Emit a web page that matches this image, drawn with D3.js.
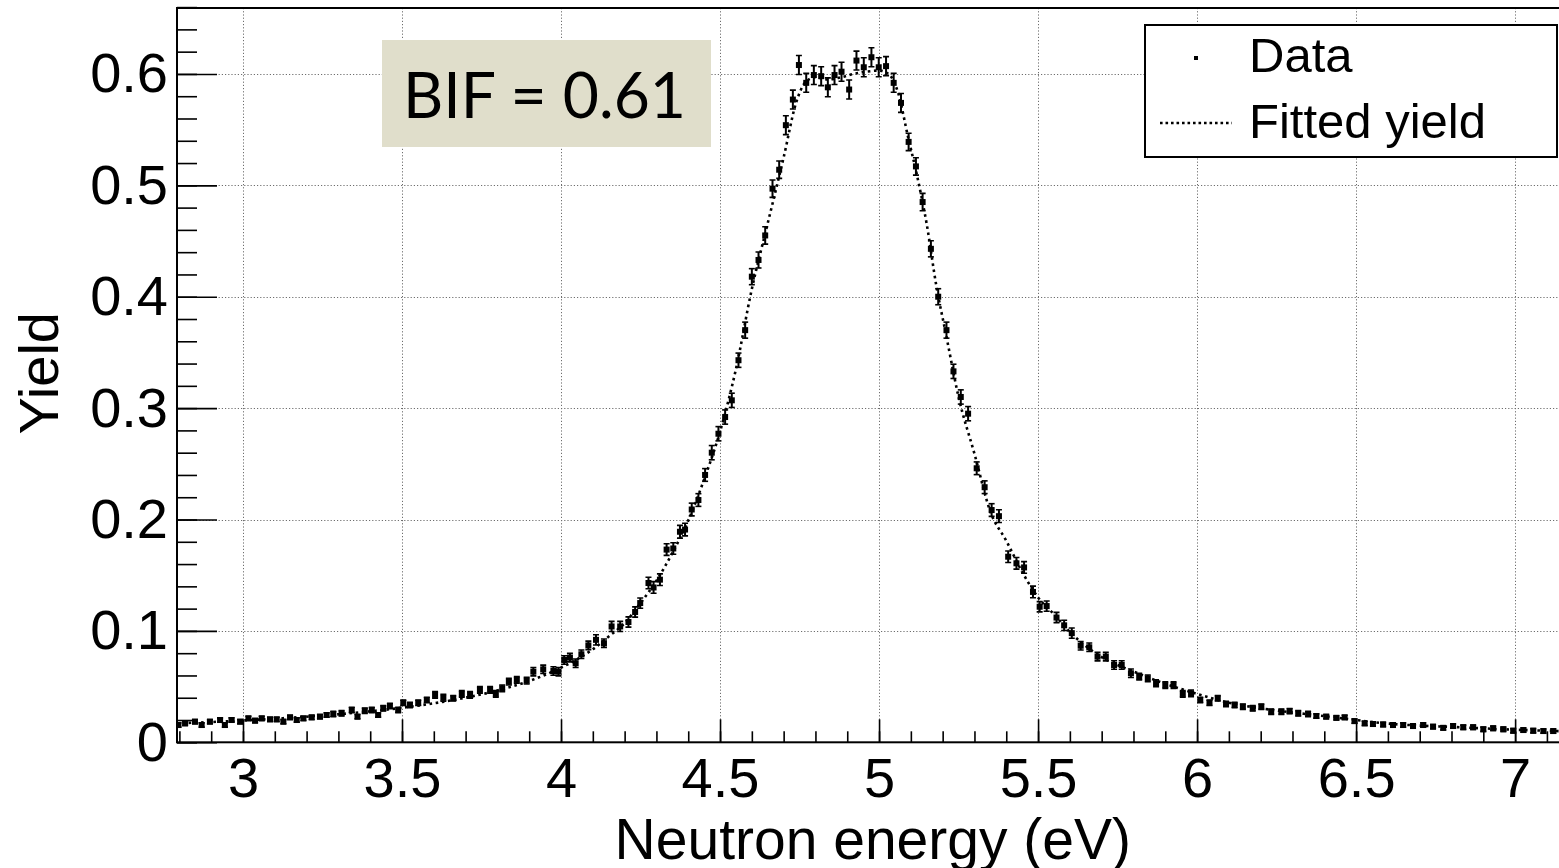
<!DOCTYPE html>
<html>
<head>
<meta charset="utf-8">
<script src="https://cdn.jsdelivr.net/npm/d3@7"></script>
<style>
  body { margin: 0; background: #fff; }
  svg { display: block; font-family: "Liberation Sans", Arial, sans-serif; }
</style>
</head>
<body>
<div id="chart"></div>
<script>
// measured points (energy in eV, yield, stat. error)
var energy = [
  2.797, 2.818, 2.849, 2.870, 2.896, 2.928, 2.943, 2.964, 2.991, 3.017,
  3.038, 3.059, 3.085, 3.106, 3.127, 3.148, 3.169, 3.190, 3.216, 3.242,
  3.263, 3.284, 3.310, 3.342, 3.360, 3.383, 3.405, 3.425, 3.441, 3.462,
  3.488, 3.504, 3.525, 3.551, 3.578, 3.604, 3.630, 3.661, 3.688, 3.714,
  3.745, 3.777, 3.795, 3.815, 3.836, 3.861, 3.892, 3.913, 3.944, 3.976,
  3.992, 4.010,
  4.028, 4.046, 4.064, 4.086, 4.110, 4.135, 4.159, 4.186, 4.212, 4.233,
  4.249, 4.275, 4.291, 4.311, 4.332, 4.353, 4.374, 4.390, 4.411, 4.432,
  4.453, 4.474, 4.495,
  4.516, 4.537, 4.558, 4.579, 4.600, 4.621, 4.642, 4.665, 4.686, 4.707,
  4.729, 4.748, 4.771, 4.795, 4.818, 4.839, 4.860, 4.882, 4.906, 4.929,
  4.952, 4.976, 4.999, 5.022, 5.046, 5.069, 5.093, 5.116, 5.137, 5.163,
  5.186, 5.212, 5.234, 5.257,
  5.280, 5.307, 5.332, 5.354, 5.377, 5.406, 5.432, 5.456, 5.484, 5.505,
  5.527, 5.558, 5.582, 5.606, 5.634, 5.661, 5.687, 5.713, 5.739, 5.763,
  5.792, 5.818, 5.845, 5.871, 5.900, 5.926, 5.955, 5.981, 6.010, 6.039,
  6.065, 6.091, 6.118, 6.144, 6.175, 6.202, 6.233, 6.265, 6.291, 6.318,
  6.349, 6.375, 6.406, 6.438, 6.464, 6.495, 6.527, 6.553, 6.585, 6.616,
  6.648, 6.679, 6.711, 6.742, 6.774, 6.805, 6.837, 6.868, 6.900, 6.931,
  6.963, 6.994, 7.026, 7.057, 7.089, 7.120
];
var yieldData = [
  0.0155, 0.017, 0.0185, 0.0155, 0.0185, 0.020, 0.0155, 0.020, 0.0185, 0.0215,
  0.0194, 0.0215, 0.0206, 0.0206, 0.0185, 0.0224, 0.020, 0.0215, 0.0224, 0.023,
  0.0245, 0.0254, 0.026, 0.029, 0.023, 0.0284, 0.029, 0.0245, 0.0305, 0.0326,
  0.029, 0.0355, 0.0335, 0.0355, 0.038, 0.0425, 0.040, 0.0395, 0.0434, 0.0425,
  0.047, 0.047, 0.0434, 0.0485, 0.0544, 0.056, 0.0553, 0.0634, 0.0655, 0.064,
  0.0634, 0.0739,
  0.076, 0.071, 0.079, 0.087, 0.092, 0.089, 0.104, 0.104, 0.108, 0.117,
  0.125, 0.143, 0.139, 0.146, 0.173, 0.174, 0.189, 0.191, 0.209, 0.2175,
  0.240, 0.260, 0.277,
  0.292, 0.307, 0.343, 0.370, 0.418, 0.433, 0.455, 0.497, 0.514, 0.554,
  0.577, 0.608, 0.592, 0.599, 0.598, 0.588, 0.599, 0.602, 0.586, 0.612,
  0.606, 0.615, 0.606, 0.607, 0.592, 0.574, 0.539, 0.517, 0.485, 0.443,
  0.400, 0.370, 0.333, 0.310,
  0.295, 0.246, 0.229, 0.2085, 0.203, 0.1666, 0.1607, 0.157, 0.135, 0.1217,
  0.1223, 0.112, 0.105, 0.098, 0.0867, 0.0853, 0.0769, 0.0769, 0.0694, 0.0694,
  0.062, 0.059, 0.0574, 0.053, 0.0514, 0.0514, 0.0434, 0.044, 0.038, 0.0355,
  0.0395, 0.0344, 0.0335, 0.032, 0.0305, 0.032, 0.0275, 0.0275, 0.028, 0.026,
  0.0254, 0.0236, 0.023, 0.022, 0.0224, 0.019, 0.017, 0.0164, 0.016, 0.0155,
  0.0155, 0.0146, 0.0155, 0.014, 0.013, 0.0146, 0.0135, 0.0135, 0.0117, 0.0126,
  0.0117, 0.0104, 0.011, 0.0104, 0.0101, 0.0101
];
var yieldErr = [
  0.0019, 0.0019, 0.0019, 0.0019, 0.0019, 0.0019, 0.0019, 0.0019, 0.0019, 0.0019,
  0.0019, 0.0019, 0.0019, 0.0019, 0.0019, 0.0019, 0.0019, 0.0019, 0.0019, 0.0019,
  0.0019, 0.0024, 0.0024, 0.0024, 0.0019, 0.0024, 0.0024, 0.0019, 0.0024, 0.0024,
  0.0024, 0.0024, 0.0024, 0.0024, 0.0024, 0.0030, 0.0030, 0.0024, 0.0030, 0.0030,
  0.0030, 0.0030, 0.0030, 0.0030, 0.0030, 0.0030, 0.0030, 0.0038, 0.0038, 0.0038,
  0.0038, 0.0038,
  0.0038, 0.0038, 0.0038, 0.0038, 0.0046, 0.0038, 0.0046, 0.0046, 0.0046, 0.0046,
  0.0046, 0.0052, 0.0052, 0.0052, 0.0052, 0.0052, 0.0057, 0.0057, 0.0057, 0.0057,
  0.0057, 0.0064, 0.0064,
  0.0064, 0.0064, 0.0064, 0.0072, 0.0072, 0.0072, 0.0078, 0.0078, 0.0078, 0.0085,
  0.0085, 0.0085, 0.0085, 0.0085, 0.0085, 0.0085, 0.0085, 0.0085, 0.0085, 0.0085,
  0.0085, 0.0085, 0.0085, 0.0085, 0.0085, 0.0085, 0.0078, 0.0078, 0.0078, 0.0072,
  0.0072, 0.0072, 0.0064, 0.0064,
  0.0064, 0.0057, 0.0057, 0.0057, 0.0057, 0.0052, 0.0052, 0.0052, 0.0052, 0.0046,
  0.0046, 0.0046, 0.0046, 0.0046, 0.0038, 0.0038, 0.0038, 0.0038, 0.0038, 0.0038,
  0.0038, 0.0030, 0.0030, 0.0030, 0.0030, 0.0030, 0.0030, 0.0030, 0.0024, 0.0024,
  0.0024, 0.0024, 0.0024, 0.0024, 0.0024, 0.0024, 0.0024, 0.0024, 0.0024, 0.0024,
  0.0024, 0.0019, 0.0019, 0.0019, 0.0019, 0.0019, 0.0019, 0.0019, 0.0019, 0.0019,
  0.0019, 0.0019, 0.0019, 0.0019, 0.0019, 0.0019, 0.0019, 0.0019, 0.0019, 0.0019,
  0.0019, 0.0019, 0.0019, 0.0019, 0.0019, 0.0019
];

// fitted yield curve
var fitEnergy = [
  2.79, 2.9, 3.0, 3.1, 3.2, 3.3, 3.4, 3.5, 3.6, 3.7,
  3.8, 3.9, 4.0, 4.05, 4.1, 4.15, 4.2, 4.25, 4.3, 4.35,
  4.4, 4.45, 4.5, 4.55, 4.6, 4.65, 4.7, 4.74, 4.77, 4.8,
  4.84, 4.88, 4.92, 4.96, 5.0, 5.03, 5.06, 5.09, 5.12, 5.15,
  5.18, 5.21, 5.25, 5.3, 5.35, 5.4, 5.45, 5.5, 5.55, 5.6,
  5.7, 5.8, 5.9, 6.0, 6.1, 6.2, 6.3, 6.4, 6.5, 6.6,
  6.7, 6.8, 6.9, 7.0, 7.14
];
var fitYield = [
  0.0170, 0.0182, 0.0196, 0.0212, 0.0230, 0.0252, 0.0278, 0.0310, 0.0350, 0.0400,
  0.0465, 0.0550, 0.0670, 0.0745, 0.0835, 0.0950, 0.1070, 0.1250, 0.1450, 0.1700,
  0.1990, 0.2360, 0.2790, 0.3350, 0.4070, 0.4660, 0.5250, 0.5750, 0.5930, 0.5970,
  0.5950, 0.5970, 0.6000, 0.6020, 0.6030, 0.6000, 0.5830, 0.5450, 0.5080, 0.4650,
  0.4100, 0.3670, 0.3100, 0.2590, 0.2070, 0.1810, 0.1530, 0.1300, 0.1150, 0.0990,
  0.0765, 0.0636, 0.0525, 0.0435, 0.0355, 0.0305, 0.0268, 0.0235, 0.0200, 0.0168,
  0.0150, 0.0138, 0.0125, 0.0113, 0.0100
];

var xMajorTicks = [3, 3.5, 4, 4.5, 5, 5.5, 6, 6.5, 7];
var xTickLabels = ["3", "3.5", "4", "4.5", "5", "5.5", "6", "6.5", "7"];
var yMajorTicks = [0, 0.1, 0.2, 0.3, 0.4, 0.5, 0.6];
var yTickLabels = ["0", "0.1", "0.2", "0.3", "0.4", "0.5", "0.6"];
var legendLabels = ["Data", "Fitted yield"];
var bifLabel = "BIF = 0.61";
var xTitle = "Neutron energy (eV)";
var yTitle = "Yield";

var width = 1559,
  height = 868;
var plotLeft = 177,
  plotRight = 1559,
  plotTop = 8,
  plotBottom = 742.3;

var x = d3.scaleLinear().domain([2.7925, 7.138]).range([plotLeft, plotRight]);
var y = d3.scaleLinear().domain([0, 0.66]).range([plotBottom, 7.1]);

var svg = d3
  .select("#chart")
  .append("svg")
  .attr("width", width)
  .attr("height", height);

svg
  .append("defs")
  .append("clipPath")
  .attr("id", "plot-clip")
  .append("rect")
  .attr("x", plotLeft)
  .attr("y", plotTop)
  .attr("width", plotRight - plotLeft)
  .attr("height", plotBottom - plotTop);

// grid
var grid = svg
  .append("g")
  .attr("stroke", "#6e6e6e")
  .attr("stroke-width", 1)
  .attr("stroke-dasharray", "1.2,2");
grid
  .selectAll("line.vx")
  .data(xMajorTicks)
  .enter()
  .append("line")
  .attr("x1", d => Math.round(x(d)) + 0.5)
  .attr("x2", d => Math.round(x(d)) + 0.5)
  .attr("y1", plotTop)
  .attr("y2", plotBottom);
grid
  .selectAll("line.hy")
  .data(yMajorTicks.slice(1))
  .enter()
  .append("line")
  .attr("x1", plotLeft)
  .attr("x2", plotRight)
  .attr("y1", d => Math.round(y(d)) + 0.5)
  .attr("y2", d => Math.round(y(d)) + 0.5);

// axes (ticks pointing into the frame)
var xMinor = d3.range(2.8, 7.15, 0.1);
var yMinor = d3.range(0, 0.665, 0.02);

svg
  .append("g")
  .attr("transform", "translate(0," + plotBottom + ")")
  .call(
    d3.axisBottom(x)
      .tickValues(xMajorTicks)
      .tickSize(-23)
      .tickPadding(15)
      .tickFormat((d, i) => xTickLabels[i])
  );
svg
  .append("g")
  .attr("transform", "translate(0," + plotBottom + ")")
  .call(d3.axisBottom(x).tickValues(xMinor).tickSize(-11).tickFormat(""));

svg
  .append("g")
  .attr("transform", "translate(" + plotLeft + ",0)")
  .call(
    d3.axisLeft(y)
      .tickValues(yMajorTicks)
      .tickSize(-40)
      .tickPadding(9)
      .tickFormat((d, i) => yTickLabels[i])
  );
svg
  .append("g")
  .attr("transform", "translate(" + plotLeft + ",0)")
  .call(d3.axisLeft(y).tickValues(yMinor).tickSize(-20).tickFormat(""));

svg.selectAll(".domain").remove();
svg.selectAll(".tick line").attr("stroke", "#000").attr("stroke-width", 1.6);
svg
  .selectAll(".tick text")
  .attr("font-size", 56)
  .attr("font-family", "Liberation Sans, Arial, sans-serif")
  .attr("fill", "#000");

// fitted curve
var plot = svg.append("g").attr("clip-path", "url(#plot-clip)");
var fitLine = d3
  .line()
  .x((d, i) => x(fitEnergy[i]))
  .y(d => y(d))
  .curve(d3.curveMonotoneX);
plot
  .append("path")
  .datum(fitYield)
  .attr("d", fitLine)
  .attr("fill", "none")
  .attr("stroke", "#000")
  .attr("stroke-width", 2.6)
  .attr("stroke-dasharray", "2.6,3.6");

// data with error bars
var pts = plot
  .selectAll("g.pt")
  .data(yieldData)
  .enter()
  .append("g")
  .attr("class", "pt");
pts
  .append("line")
  .attr("x1", (d, i) => x(energy[i]))
  .attr("x2", (d, i) => x(energy[i]))
  .attr("y1", (d, i) => y(d - yieldErr[i]))
  .attr("y2", (d, i) => y(d + yieldErr[i]))
  .attr("stroke", "#000")
  .attr("stroke-width", 2);
pts
  .append("line")
  .attr("x1", (d, i) => x(energy[i]) - 3)
  .attr("x2", (d, i) => x(energy[i]) + 3)
  .attr("y1", (d, i) => y(d + yieldErr[i]))
  .attr("y2", (d, i) => y(d + yieldErr[i]))
  .attr("stroke", "#000")
  .attr("stroke-width", 1.6);
pts
  .append("line")
  .attr("x1", (d, i) => x(energy[i]) - 3)
  .attr("x2", (d, i) => x(energy[i]) + 3)
  .attr("y1", (d, i) => y(d - yieldErr[i]))
  .attr("y2", (d, i) => y(d - yieldErr[i]))
  .attr("stroke", "#000")
  .attr("stroke-width", 1.6);
pts
  .append("rect")
  .attr("x", (d, i) => x(energy[i]) - 3)
  .attr("y", d => y(d) - 3)
  .attr("width", 6)
  .attr("height", 6)
  .attr("fill", "#000");

// frame
svg
  .append("rect")
  .attr("x", plotLeft)
  .attr("y", plotTop)
  .attr("width", plotRight - plotLeft + 5)
  .attr("height", plotBottom - plotTop)
  .attr("fill", "none")
  .attr("stroke", "#000")
  .attr("stroke-width", 2);

// axis titles
svg
  .append("text")
  .attr("x", 1131)
  .attr("y", 859)
  .attr("text-anchor", "end")
  .attr("font-size", 57)
  .text(xTitle);
svg
  .append("text")
  .attr("transform", "translate(58,312) rotate(-90)")
  .attr("text-anchor", "end")
  .attr("font-size", 56)
  .text(yTitle);

// BIF annotation
svg
  .append("rect")
  .attr("x", 382)
  .attr("y", 40)
  .attr("width", 329)
  .attr("height", 107)
  .attr("fill", "#e0decb");
svg
  .append("text")
  .attr("x", 403)
  .attr("y", 118)
  .attr("font-family", "Lato, 'Open Sans', sans-serif")
  .attr("font-size", 64)
  .attr("textLength", 283)
  .attr("lengthAdjust", "spacingAndGlyphs")
  .text(bifLabel);

// legend
var legend = svg.append("g");
legend
  .append("rect")
  .attr("x", 1145)
  .attr("y", 25)
  .attr("width", 412)
  .attr("height", 132)
  .attr("fill", "#fff")
  .attr("stroke", "#000")
  .attr("stroke-width", 2);
legend
  .append("rect")
  .attr("x", 1194)
  .attr("y", 56)
  .attr("width", 4)
  .attr("height", 4)
  .attr("fill", "#000");
legend
  .append("line")
  .attr("x1", 1160)
  .attr("x2", 1232)
  .attr("y1", 123)
  .attr("y2", 123)
  .attr("stroke", "#000")
  .attr("stroke-width", 2.6)
  .attr("stroke-dasharray", "2.6,2.9");
legend
  .selectAll("text")
  .data(legendLabels)
  .enter()
  .append("text")
  .attr("x", 1249)
  .attr("y", (d, i) => 72 + i * 66)
  .attr("font-size", 49)
  .text(d => d);
</script>
</body>
</html>
